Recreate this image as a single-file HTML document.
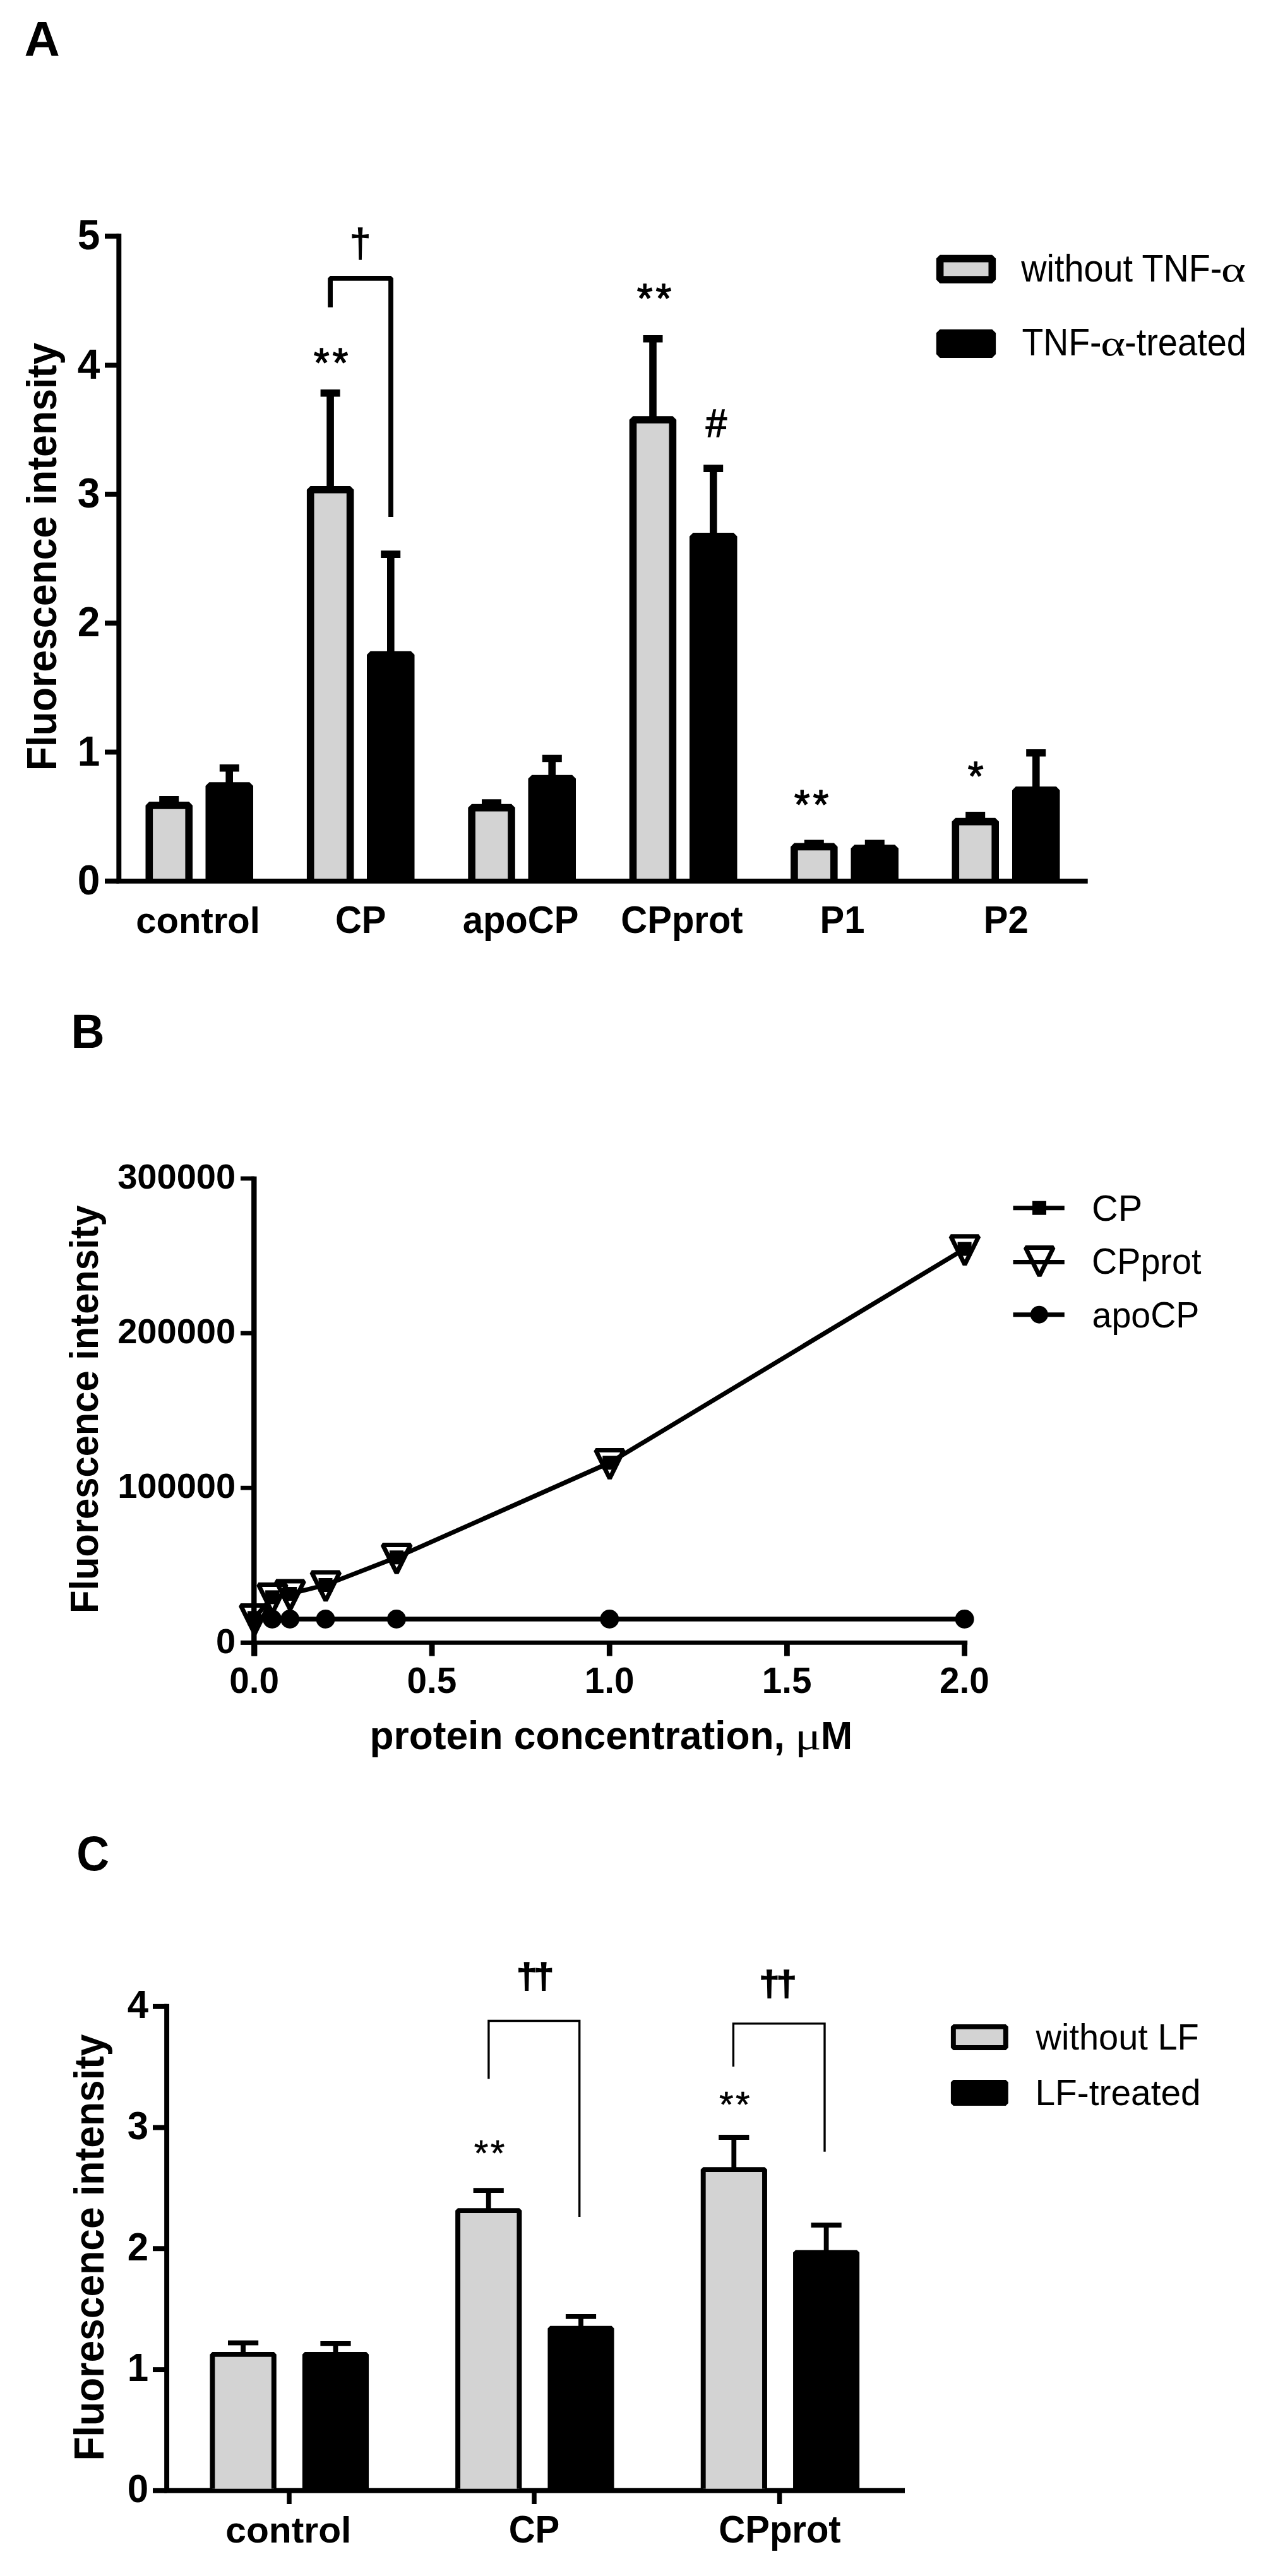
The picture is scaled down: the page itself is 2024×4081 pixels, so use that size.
<!DOCTYPE html>
<html lang="en"><head><meta charset="utf-8"><title>Figure</title>
<style>
html,body{margin:0;padding:0;background:#fff;}
body{width:2024px;height:4081px;overflow:hidden;}
svg{display:block;}
svg text{font-family:"Liberation Sans",Arial,Helvetica,sans-serif;fill:#000;}
</style></head><body>
<svg width="2024" height="4081" viewBox="0 0 2024 4081">
<rect width="2024" height="4081" fill="#fff"/>
<g id="panelA">
<text transform="translate(38.6 89.1) scale(1.04 1.04)" font-size="75" font-weight="bold" text-anchor="start" >A</text>
<path d="M188.3 370.3 V1395.85 H1722.7" fill="none" stroke="#000" stroke-width="7.9" stroke-linejoin="miter"/>
<line x1="166" x2="188.3" y1="1395.8" y2="1395.8" stroke="#000" stroke-width="7.9"/>
<text transform="translate(158.3 1416.8) scale(1 1.04)" font-size="64" font-weight="bold" text-anchor="end" >0</text>
<line x1="166" x2="188.3" y1="1191.5" y2="1191.5" stroke="#000" stroke-width="7.9"/>
<text transform="translate(158.3 1212.5) scale(1 1.04)" font-size="64" font-weight="bold" text-anchor="end" >1</text>
<line x1="166" x2="188.3" y1="987.2" y2="987.2" stroke="#000" stroke-width="7.9"/>
<text transform="translate(158.3 1008.2) scale(1 1.04)" font-size="64" font-weight="bold" text-anchor="end" >2</text>
<line x1="166" x2="188.3" y1="782.9" y2="782.9" stroke="#000" stroke-width="7.9"/>
<text transform="translate(158.3 803.9) scale(1 1.04)" font-size="64" font-weight="bold" text-anchor="end" >3</text>
<line x1="166" x2="188.3" y1="578.6" y2="578.6" stroke="#000" stroke-width="7.9"/>
<text transform="translate(158.3 599.6) scale(1 1.04)" font-size="64" font-weight="bold" text-anchor="end" >4</text>
<line x1="166" x2="188.3" y1="374.2" y2="374.2" stroke="#000" stroke-width="7.9"/>
<text transform="translate(158.3 395.2) scale(1 1.04)" font-size="64" font-weight="bold" text-anchor="end" >5</text>
<text transform="translate(89.1 882.1) rotate(-90) scale(0.978 1.04)" font-size="64" font-weight="bold" text-anchor="middle" >Fluorescence intensity</text>
<path d="M252.2 1266.9 H283.2 M267.8 1266.9 V1281.7" stroke="#000" stroke-width="11.6" fill="none"/>
<path d="M236.3 1392.1 V1275.9 H299.2 V1392.1" fill="#d3d3d3" stroke="#000" stroke-width="11.6" stroke-linejoin="bevel"/>
<path d="M347.8 1216.8 H378.8 M363.2 1216.8 V1250.8" stroke="#000" stroke-width="11.6" fill="none"/>
<path d="M331.3 1392.1 V1245.0 H395.2 V1392.1" fill="#000" stroke="#000" stroke-width="11.6" stroke-linejoin="bevel"/>
<path d="M507.6 622.7 H538.6 M523.1 622.7 V781.6" stroke="#000" stroke-width="11.6" fill="none"/>
<path d="M491.7 1392.1 V775.8 H554.6 V1392.1" fill="#d3d3d3" stroke="#000" stroke-width="11.6" stroke-linejoin="bevel"/>
<path d="M603.2 878.1 H634.2 M618.8 878.1 V1043.0" stroke="#000" stroke-width="11.6" fill="none"/>
<path d="M586.8 1392.1 V1037.2 H650.7 V1392.1" fill="#000" stroke="#000" stroke-width="11.6" stroke-linejoin="bevel"/>
<path d="M763.0 1272.0 H794.0 M778.5 1272.0 V1285.4" stroke="#000" stroke-width="11.6" fill="none"/>
<path d="M747.1 1392.1 V1279.6 H810.0 V1392.1" fill="#d3d3d3" stroke="#000" stroke-width="11.6" stroke-linejoin="bevel"/>
<path d="M858.8 1201.5 H889.8 M874.2 1201.5 V1239.4" stroke="#000" stroke-width="11.6" fill="none"/>
<path d="M842.3 1392.1 V1233.6 H906.2 V1392.1" fill="#000" stroke="#000" stroke-width="11.6" stroke-linejoin="bevel"/>
<path d="M1018.5 536.8 H1049.5 M1034.0 536.8 V670.8" stroke="#000" stroke-width="11.6" fill="none"/>
<path d="M1002.5 1392.1 V665.0 H1065.4 V1392.1" fill="#d3d3d3" stroke="#000" stroke-width="11.6" stroke-linejoin="bevel"/>
<path d="M1114.2 742.1 H1145.2 M1129.8 742.1 V855.5" stroke="#000" stroke-width="11.6" fill="none"/>
<path d="M1097.8 1392.1 V849.7 H1161.7 V1392.1" fill="#000" stroke="#000" stroke-width="11.6" stroke-linejoin="bevel"/>
<path d="M1273.8 1336.2 H1304.8 M1289.3 1336.2 V1347.2" stroke="#000" stroke-width="11.6" fill="none"/>
<path d="M1257.9 1392.1 V1341.4 H1320.8 V1392.1" fill="#d3d3d3" stroke="#000" stroke-width="11.6" stroke-linejoin="bevel"/>
<path d="M1369.8 1336.2 H1400.8 M1385.2 1336.2 V1349.9" stroke="#000" stroke-width="11.6" fill="none"/>
<path d="M1353.3 1392.1 V1344.1 H1417.2 V1392.1" fill="#000" stroke="#000" stroke-width="11.6" stroke-linejoin="bevel"/>
<path d="M1529.2 1291.7 H1560.2 M1544.8 1291.7 V1307.4" stroke="#000" stroke-width="11.6" fill="none"/>
<path d="M1513.3 1392.1 V1301.6 H1576.2 V1392.1" fill="#d3d3d3" stroke="#000" stroke-width="11.6" stroke-linejoin="bevel"/>
<path d="M1625.2 1192.7 H1656.2 M1640.8 1192.7 V1257.7" stroke="#000" stroke-width="11.6" fill="none"/>
<path d="M1608.8 1392.1 V1251.9 H1672.7 V1392.1" fill="#000" stroke="#000" stroke-width="11.6" stroke-linejoin="bevel"/>
<text transform="translate(313.6 1477.5) scale(1 1.0)" font-size="58" font-weight="bold" text-anchor="middle" >control</text>
<text transform="translate(571.2 1477.5) scale(1 1.04)" font-size="58" font-weight="bold" text-anchor="middle" >CP</text>
<text transform="translate(824.5 1477.5) scale(1 1.04)" font-size="58" font-weight="bold" text-anchor="middle" >apoCP</text>
<text transform="translate(1080 1477.5) scale(1 1.04)" font-size="58" font-weight="bold" text-anchor="middle" >CPprot</text>
<text transform="translate(1334 1477.5) scale(1 1.04)" font-size="58" font-weight="bold" text-anchor="middle" >P1</text>
<text transform="translate(1593.2 1477.5) scale(1 1.04)" font-size="58" font-weight="bold" text-anchor="middle" >P2</text>
<path d="M523.1 487.1 V440.8 H619 V819" fill="none" stroke="#000" stroke-width="7.8" stroke-linejoin="bevel"/>
<text transform="translate(570.5 407.3) scale(1 1.04)" font-size="59.7" text-anchor="middle" stroke="#000" stroke-width="1.3">†</text>
<text x="496.8" y="597.2" font-size="64" letter-spacing="4.70" stroke="#000" stroke-width="1.4" stroke-linejoin="round">**</text>
<text x="1008.8" y="494.5" font-size="64" letter-spacing="4.70" stroke="#000" stroke-width="1.4" stroke-linejoin="round">**</text>
<text transform="translate(1134.5 692.3) scale(1 1.04)" font-size="60" text-anchor="middle" stroke="#000" stroke-width="1.4">#</text>
<text x="1257.8" y="1296.8" font-size="64" letter-spacing="4.70" stroke="#000" stroke-width="1.4" stroke-linejoin="round">**</text>
<text x="1532.8" y="1251.9" font-size="64" letter-spacing="4.70" stroke="#000" stroke-width="1.4" stroke-linejoin="round">*</text>
<rect x="1488.6" y="409.6" width="82.7" height="33.5" fill="#d3d3d3" stroke="#000" stroke-width="11.6" stroke-linejoin="bevel"/>
<rect x="1488.6" y="527.6" width="82.7" height="33.5" fill="#000" stroke="#000" stroke-width="11.6" stroke-linejoin="bevel"/>
<text transform="translate(1617.3 446) scale(1 1.04)" font-size="58.5" text-anchor="start" textLength="318" lengthAdjust="spacingAndGlyphs">without TNF-</text>
<text transform="translate(1934,446) scale(1.28,1)" font-family="Liberation Serif, serif" font-size="58" style="font-family:'Liberation Serif',serif">α</text>
<text transform="translate(1618.5 563.4) scale(1 1.04)" font-size="58.5" text-anchor="start" textLength="126" lengthAdjust="spacingAndGlyphs">TNF-</text>
<text transform="translate(1743.3,563.4) scale(1.28,1)" font-family="Liberation Serif, serif" font-size="58" style="font-family:'Liberation Serif',serif">α</text>
<text transform="translate(1781 563.4) scale(1 1.04)" font-size="58.5" text-anchor="start" textLength="193" lengthAdjust="spacingAndGlyphs">-treated</text>
</g>
<g id="panelB">
<text transform="translate(112.5 1659.5) scale(1 1.04)" font-size="73.5" font-weight="bold" text-anchor="start" >B</text>
<path d="M402.3 1863.7 V2623.6" fill="none" stroke="#000" stroke-width="8.4"/>
<path d="M381 2602.3 H1532.2" fill="none" stroke="#000" stroke-width="6.8"/>
<line x1="381" x2="403" y1="2602.3" y2="2602.3" stroke="#000" stroke-width="6.8"/>
<text transform="translate(373.2 2618.5) scale(1.058 1.04)" font-size="53" font-weight="bold" text-anchor="end" >0</text>
<line x1="381" x2="403" y1="2357.2" y2="2357.2" stroke="#000" stroke-width="6.8"/>
<text transform="translate(373.2 2373.4) scale(1.058 1.04)" font-size="53" font-weight="bold" text-anchor="end" >100000</text>
<line x1="381" x2="403" y1="2112.1" y2="2112.1" stroke="#000" stroke-width="6.8"/>
<text transform="translate(373.2 2128.3) scale(1.058 1.04)" font-size="53" font-weight="bold" text-anchor="end" >200000</text>
<line x1="381" x2="403" y1="1867.0" y2="1867.0" stroke="#000" stroke-width="6.8"/>
<text transform="translate(373.2 1883.2) scale(1.058 1.04)" font-size="53" font-weight="bold" text-anchor="end" >300000</text>
<line x1="403.0" x2="403.0" y1="2602.3" y2="2623.6" stroke="#000" stroke-width="8.8"/>
<text transform="translate(402.7 2682.4) scale(1.04 1.04)" font-size="54.5" font-weight="bold" text-anchor="middle" >0.0</text>
<line x1="684.1" x2="684.1" y1="2602.3" y2="2623.6" stroke="#000" stroke-width="8.8"/>
<text transform="translate(683.9 2682.4) scale(1.04 1.04)" font-size="54.5" font-weight="bold" text-anchor="middle" >0.5</text>
<line x1="965.3" x2="965.3" y1="2602.3" y2="2623.6" stroke="#000" stroke-width="8.8"/>
<text transform="translate(965.0 2682.4) scale(1.04 1.04)" font-size="54.5" font-weight="bold" text-anchor="middle" >1.0</text>
<line x1="1246.4" x2="1246.4" y1="2602.3" y2="2623.6" stroke="#000" stroke-width="8.8"/>
<text transform="translate(1246.1 2682.4) scale(1.04 1.04)" font-size="54.5" font-weight="bold" text-anchor="middle" >1.5</text>
<line x1="1527.6" x2="1527.6" y1="2602.3" y2="2623.6" stroke="#000" stroke-width="8.8"/>
<text transform="translate(1527.3 2682.4) scale(1.04 1.04)" font-size="54.5" font-weight="bold" text-anchor="middle" >2.0</text>
<text transform="translate(154.9 2232.7) rotate(-90) scale(0.973 1.04)" font-size="61.35" font-weight="bold" text-anchor="middle" >Fluorescence intensity</text>
<text transform="translate(585.4 2771.2) scale(1.0213 1.04)" font-size="61" font-weight="bold" text-anchor="start" >protein concentration,</text>
<text transform="translate(1258.8 2771.2) scale(1.28 1)" font-size="61" style="font-family:'Liberation Serif',serif">μ</text>
<text transform="translate(1299.9 2771.2) scale(0.985 1.04)" font-size="61" font-weight="bold" text-anchor="start" >M</text>
<path d="M431.1 2565 L459.2 2565 L515.5 2565 L627.9 2565 L965.3 2565 L1527.6 2565" fill="none" stroke="#000" stroke-width="7.5"/>
<path d="M403.0 2563.3 L431.1 2530.4 L459.2 2525.0 L515.5 2511.0 L627.9 2467.3 L965.3 2317.4 L1527.6 1978.6" fill="none" stroke="#000" stroke-width="7.2" stroke-linejoin="round"/>
<circle cx="431.1" cy="2565" r="15"/>
<circle cx="459.2" cy="2565" r="15"/>
<circle cx="515.5" cy="2565" r="15"/>
<circle cx="627.9" cy="2565" r="15"/>
<circle cx="965.3" cy="2565" r="15"/>
<circle cx="1527.6" cy="2565" r="15"/>
<rect x="392.0" y="2552.3" width="22" height="22"/>
<path d="M381.2 2543.4 H425.4 L403.3 2588.1 Z" fill="none" stroke="#000" stroke-width="7" stroke-linejoin="bevel"/>
<rect x="420.1" y="2519.4" width="22" height="22"/>
<path d="M409.3 2510.5 H453.5 L431.4 2555.2 Z" fill="none" stroke="#000" stroke-width="7" stroke-linejoin="bevel"/>
<rect x="448.2" y="2514.0" width="22" height="22"/>
<path d="M437.4 2505.1 H481.6 L459.5 2549.8 Z" fill="none" stroke="#000" stroke-width="7" stroke-linejoin="bevel"/>
<rect x="504.5" y="2500.0" width="22" height="22"/>
<path d="M493.7 2491.1 H537.9 L515.8 2535.8 Z" fill="none" stroke="#000" stroke-width="7" stroke-linejoin="bevel"/>
<rect x="616.9" y="2456.3" width="22" height="22"/>
<path d="M606.1 2447.4 H650.3 L628.2 2492.1 Z" fill="none" stroke="#000" stroke-width="7" stroke-linejoin="bevel"/>
<rect x="954.3" y="2306.4" width="22" height="22"/>
<path d="M943.5 2297.5 H987.7 L965.6 2342.2 Z" fill="none" stroke="#000" stroke-width="7" stroke-linejoin="bevel"/>
<rect x="1516.6" y="1967.6" width="22" height="22"/>
<path d="M1505.8 1958.7 H1550.0 L1527.9 2003.4 Z" fill="none" stroke="#000" stroke-width="7" stroke-linejoin="bevel"/>
<line x1="1604.5" x2="1685.8" y1="1913.7" y2="1913.7" stroke="#000" stroke-width="7"/>
<line x1="1604.5" x2="1685.8" y1="1999.4" y2="1999.4" stroke="#000" stroke-width="7"/>
<line x1="1604.5" x2="1685.8" y1="2082.7" y2="2082.7" stroke="#000" stroke-width="7"/>
<rect x="1635" y="1902.7" width="22" height="22"/>
<path d="M1624.1 1976.5 H1668.3 L1646.2 2021.2 Z" fill="none" stroke="#000" stroke-width="7" stroke-linejoin="bevel"/>
<circle cx="1645.8" cy="2082.7" r="14"/>
<text transform="translate(1729 1933.5) scale(1.05 1.04)" font-size="55" text-anchor="start" >CP</text>
<text transform="translate(1729 2018.2) scale(1.013 1.04)" font-size="55" text-anchor="start" >CPprot</text>
<text transform="translate(1729.5 2102.8) scale(1.01 1.04)" font-size="55" text-anchor="start" >apoCP</text>
</g>
<g id="panelC">
<text transform="translate(121.2 2963.3) scale(0.965 1.04)" font-size="74.5" font-weight="bold" text-anchor="start" >C</text>
<path d="M264.1 3174.8 V3945.8 H1433" fill="none" stroke="#000" stroke-width="7.9"/>
<line x1="242" x2="264.1" y1="3945.8" y2="3945.8" stroke="#000" stroke-width="7.9"/>
<text transform="translate(235 3964.0) scale(1 1.04)" font-size="60" font-weight="bold" text-anchor="end" >0</text>
<line x1="242" x2="264.1" y1="3754.1" y2="3754.1" stroke="#000" stroke-width="7.9"/>
<text transform="translate(235 3772.2) scale(1 1.04)" font-size="60" font-weight="bold" text-anchor="end" >1</text>
<line x1="242" x2="264.1" y1="3562.3" y2="3562.3" stroke="#000" stroke-width="7.9"/>
<text transform="translate(235 3580.5) scale(1 1.04)" font-size="60" font-weight="bold" text-anchor="end" >2</text>
<line x1="242" x2="264.1" y1="3370.6" y2="3370.6" stroke="#000" stroke-width="7.9"/>
<text transform="translate(235 3388.8) scale(1 1.04)" font-size="60" font-weight="bold" text-anchor="end" >3</text>
<line x1="242" x2="264.1" y1="3178.8" y2="3178.8" stroke="#000" stroke-width="7.9"/>
<text transform="translate(235 3197.0) scale(1 1.04)" font-size="60" font-weight="bold" text-anchor="end" >4</text>
<line x1="458" x2="458" y1="3945.8" y2="3967" stroke="#000" stroke-width="7.5"/>
<line x1="846" x2="846" y1="3945.8" y2="3967" stroke="#000" stroke-width="7.5"/>
<line x1="1234.6" x2="1234.6" y1="3945.8" y2="3967" stroke="#000" stroke-width="7.5"/>
<text transform="translate(164.2 3560.5) rotate(-90) scale(0.975 1.04)" font-size="64" font-weight="bold" text-anchor="middle" >Fluorescence intensity</text>
<path d="M361.0 3711.7 H409.2 M385.1 3711.7 V3733.9" stroke="#000" stroke-width="7.8" fill="none"/>
<path d="M336.4 3942.8 V3729.9 H433.8 V3942.8" fill="#d3d3d3" stroke="#000" stroke-width="7.9" stroke-linejoin="bevel"/>
<path d="M507.4 3712.8 H555.6 M531.5 3712.8 V3733.9" stroke="#000" stroke-width="7.8" fill="none"/>
<path d="M482.8 3942.8 V3729.9 H580.1 V3942.8" fill="#000" stroke="#000" stroke-width="7.9" stroke-linejoin="bevel"/>
<path d="M749.6 3470.2 H797.8 M773.7 3470.2 V3506.1" stroke="#000" stroke-width="7.8" fill="none"/>
<path d="M725.1 3942.8 V3502.1 H822.4 V3942.8" fill="#d3d3d3" stroke="#000" stroke-width="7.9" stroke-linejoin="bevel"/>
<path d="M895.9 3669.9 H944.1 M920.0 3669.9 V3692.7" stroke="#000" stroke-width="7.8" fill="none"/>
<path d="M871.4 3942.8 V3688.8 H968.6 V3942.8" fill="#000" stroke="#000" stroke-width="7.9" stroke-linejoin="bevel"/>
<path d="M1138.2 3386.0 H1186.4 M1162.3 3386.0 V3441.1" stroke="#000" stroke-width="7.8" fill="none"/>
<path d="M1113.7 3942.8 V3437.1 H1211.0 V3942.8" fill="#d3d3d3" stroke="#000" stroke-width="7.9" stroke-linejoin="bevel"/>
<path d="M1284.5 3525.2 H1332.7 M1308.6 3525.2 V3572.6" stroke="#000" stroke-width="7.8" fill="none"/>
<path d="M1260.0 3942.8 V3568.6 H1357.2 V3942.8" fill="#000" stroke="#000" stroke-width="7.9" stroke-linejoin="bevel"/>
<text transform="translate(456.8 4027.5) scale(1.013 1.0)" font-size="58" font-weight="bold" text-anchor="middle" >control</text>
<text transform="translate(846 4027.5) scale(1 1.04)" font-size="58" font-weight="bold" text-anchor="middle" >CP</text>
<text transform="translate(1235 4027.5) scale(1 1.04)" font-size="58" font-weight="bold" text-anchor="middle" >CPprot</text>
<path d="M773.9 3293.5 V3201.5 H917.7 V3512" fill="none" stroke="#000" stroke-width="3.4"/>
<path d="M1161.4 3274 V3205.9 H1306 V3408.8" fill="none" stroke="#000" stroke-width="3.4"/>
<text transform="translate(817.9 3149.3) scale(1.057 1)" font-size="55" font-weight="bold" letter-spacing="-4.85" stroke="#000" stroke-width="1.6">††</text>
<text transform="translate(1202.3 3161.0) scale(1.057 1)" font-size="55" font-weight="bold" letter-spacing="-4.85" stroke="#000" stroke-width="1.6">††</text>
<text x="750.7" y="3431.0" font-size="58" letter-spacing="3.44" stroke="#000" stroke-width="0.6" stroke-linejoin="round">**</text>
<text x="1139.0" y="3354.2" font-size="58" letter-spacing="3.44" stroke="#000" stroke-width="0.6" stroke-linejoin="round">**</text>
<rect x="1509.85" y="3210.85" width="83" height="33.2" fill="#d3d3d3" stroke="#000" stroke-width="7.9" stroke-linejoin="bevel"/>
<rect x="1509.85" y="3298.85" width="83" height="33.1" fill="#000" stroke="#000" stroke-width="7.9" stroke-linejoin="bevel"/>
<text transform="translate(1640.5 3247.2) scale(1 1.04)" font-size="56" text-anchor="start" >without LF</text>
<text transform="translate(1639.5 3335.4) scale(1.015 1.04)" font-size="56" text-anchor="start" >LF-treated</text>
</g>
</svg>
</body></html>
